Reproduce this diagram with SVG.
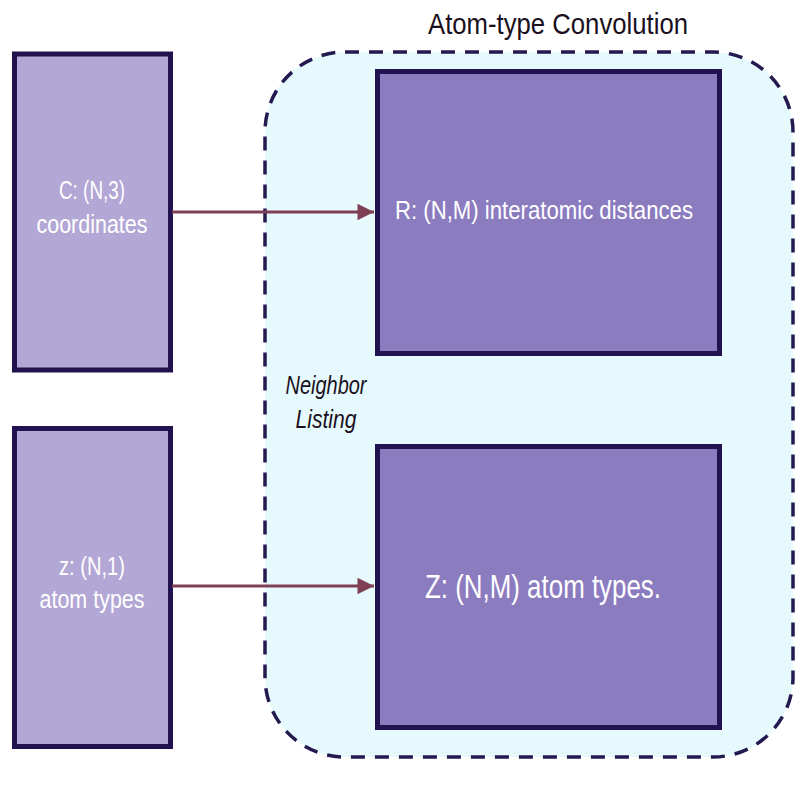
<svg xmlns="http://www.w3.org/2000/svg" width="811" height="788" viewBox="0 0 811 788">
<defs>
<style>
.in{fill:#b3a7d5;stroke:#22124f;stroke-width:5}
.out{fill:#8b7bbf;stroke:#22124f;stroke-width:5}
.wt{fill:#ffffff;font-family:"Liberation Sans",Arial,sans-serif;text-anchor:middle}
.bt{fill:#1a1020;font-family:"Liberation Sans",Arial,sans-serif;text-anchor:middle}
.conn{stroke:#7f3f55;stroke-width:3;fill:none;marker-end:url(#ah)}
</style>
<marker id="ah" viewBox="0 0 10 10" refX="10" refY="5" markerWidth="7.5" markerHeight="5.5" markerUnits="strokeWidth" orient="auto">
<path d="M0,0L10,5L0,10z" fill="#7f3f55"/>
</marker>
</defs>
<rect width="811" height="788" fill="#ffffff"/>
<g id="container">
<rect x="265" y="52" width="528" height="705" rx="80" ry="80" fill="#e6fafe" stroke="#241a50" stroke-width="3.5" stroke-dasharray="14,10"/>
<text class="bt" x="558" y="34" font-size="30" textLength="260" lengthAdjust="spacingAndGlyphs">Atom-type Convolution</text>
<text class="bt" x="326" y="394" font-size="25" font-style="italic" textLength="81" lengthAdjust="spacingAndGlyphs">Neighbor</text>
<text class="bt" x="326" y="428" font-size="25" font-style="italic" textLength="61" lengthAdjust="spacingAndGlyphs">Listing</text>
</g>
<g id="nodeC">
<rect class="in" x="14.5" y="54" width="156" height="316"/>
<text class="wt" x="92" y="199" font-size="26" textLength="66" lengthAdjust="spacingAndGlyphs">C: (N,3)</text>
<text class="wt" x="92" y="233" font-size="26" textLength="111" lengthAdjust="spacingAndGlyphs">coordinates</text>
</g>
<g id="nodez">
<rect class="in" x="14.5" y="428.5" width="156" height="318"/>
<text class="wt" x="92" y="575" font-size="26" textLength="66" lengthAdjust="spacingAndGlyphs">z: (N,1)</text>
<text class="wt" x="92" y="608" font-size="26" textLength="105" lengthAdjust="spacingAndGlyphs">atom types</text>
</g>
<g id="nodeR">
<rect class="out" x="377.5" y="71.5" width="342" height="282"/>
<text class="wt" x="544" y="219" font-size="26" textLength="298" lengthAdjust="spacingAndGlyphs">R: (N,M) interatomic distances</text>
</g>
<g id="nodeZ">
<rect class="out" x="377.5" y="446.5" width="342" height="281"/>
<text class="wt" x="543" y="598" font-size="33" textLength="236" lengthAdjust="spacingAndGlyphs">Z: (N,M) atom types.</text>
</g>
<g id="connectors">
<line class="conn" x1="172" y1="212" x2="374" y2="212"/>
<line class="conn" x1="172" y1="586" x2="374" y2="586"/>
</g>
</svg>
